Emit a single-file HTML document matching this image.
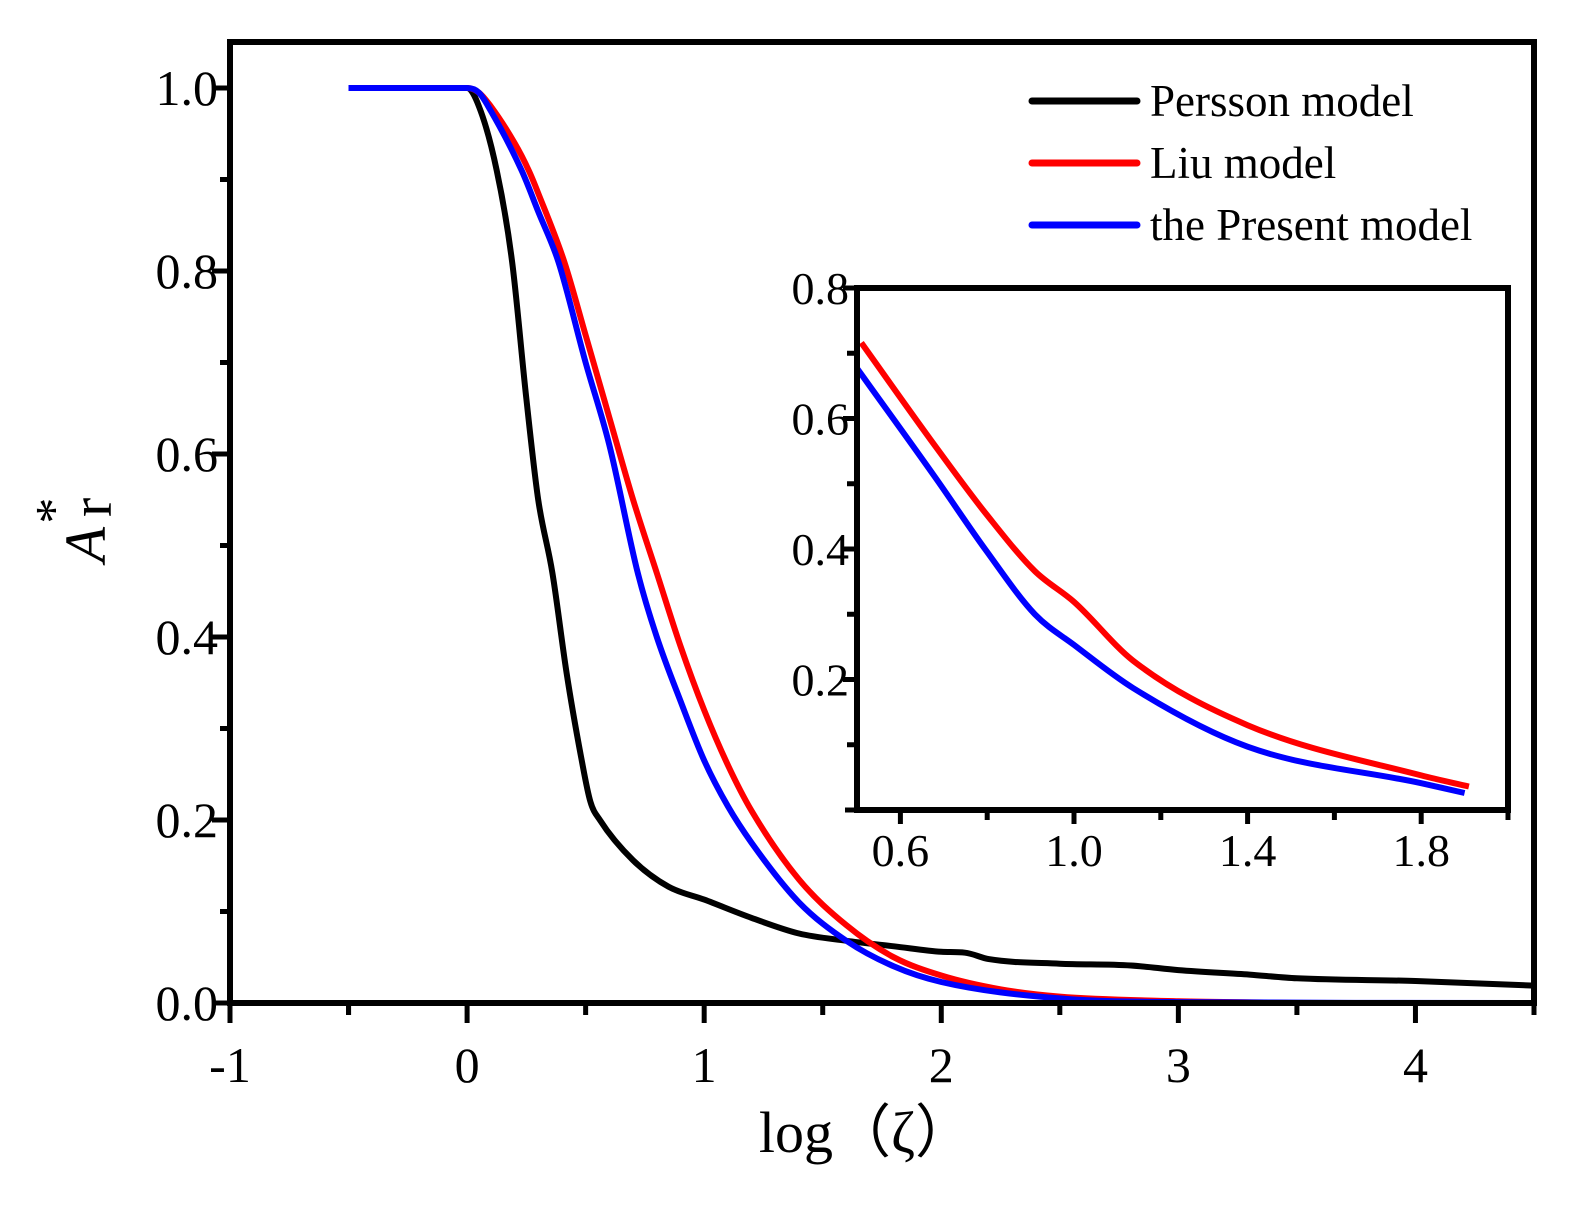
<!DOCTYPE html>
<html><head><meta charset="utf-8"><style>
html,body{margin:0;padding:0;background:#fff;overflow:hidden;width:1579px;height:1232px;}
svg{display:block;font-family:"Liberation Serif","DejaVu Serif",serif;}
</style></head><body>
<svg id="chart" width="1579" height="1232" viewBox="0 0 1579 1232" xmlns="http://www.w3.org/2000/svg">
<g id="main"></g>
<g id="inset"></g>
<g id="legend"></g>
</svg>
<script>
// Main chart data
const perssonX = [-0.5,0,0.05,0.125,0.19,0.25,0.3,0.36,0.42,0.48,0.52,0.56,0.7,0.85,1.0,1.2,1.4,1.6,1.8,2.0,2.1,2.2,2.5,2.8,3.0,3.3,3.5,4.0,4.5];
const perssonY = [1,1,0.98,0.91,0.81,0.66,0.55,0.47,0.36,0.27,0.22,0.2,0.156,0.127,0.113,0.093,0.076,0.068,0.062,0.056,0.055,0.048,0.043,0.041,0.036,0.031,0.027,0.024,0.019];
const liuX = [-0.5,0,0.05,0.1,0.2,0.26,0.3,0.41,0.5,0.6,0.7,0.8,0.9,1.0,1.1,1.2,1.4,1.6,1.8,2.0,2.25,2.5,3.0,3.5,4.0,4.5];
const liuY = [1,1,0.995,0.98,0.94,0.91,0.885,0.81,0.73,0.64,0.55,0.47,0.39,0.32,0.26,0.21,0.135,0.085,0.05,0.03,0.015,0.007,0.002,0,-0.003,0];
const presentX = [-0.5,0,0.05,0.1,0.23,0.3,0.385,0.5,0.6,0.72,0.8,0.9,1.0,1.1,1.2,1.4,1.6,1.8,2.0,2.5,3.0,4.5];
const presentY = [1,1,0.995,0.975,0.91,0.865,0.81,0.70,0.61,0.47,0.40,0.33,0.265,0.215,0.175,0.11,0.068,0.04,0.023,0.005,0.001,0];
const mainXTicks = ["-1","0","1","2","3","4"];
const mainYTicks = ["0.0","0.2","0.4","0.6","0.8","1.0"];
// Inset data
const insetLiuX = [0.51,0.68,0.795,0.91,1.0,1.136,1.4,1.8,1.91];
const insetLiuY = [0.716,0.558,0.456,0.366,0.319,0.229,0.130,0.053,0.036];
const insetPresentX = [0.5,0.68,0.795,0.91,1.0,1.136,1.4,1.8,1.90];
const insetPresentY = [0.677,0.51,0.40,0.30,0.253,0.187,0.097,0.041,0.026];
const insetXTicks = ["0.6","1.0","1.4","1.8"];
const insetYTicks = ["0.2","0.4","0.6","0.8"];

const NS="http://www.w3.org/2000/svg";
function mk(tag,attrs,parent){const e=document.createElementNS(NS,tag);for(const k in attrs)e.setAttribute(k,attrs[k]);parent.appendChild(e);return e;}
// monotone cubic (Fritsch-Carlson) in pixel space
function spline(xs,ys,sx,sy){
  const px=xs.map(sx),py=ys.map(sy),n=px.length;
  const d=[],m=[];
  for(let i=0;i<n-1;i++)d.push((py[i+1]-py[i])/(px[i+1]-px[i]));
  m[0]=d[0];m[n-1]=d[n-2];
  for(let i=1;i<n-1;i++){m[i]=(d[i-1]*d[i]<=0)?0:(d[i-1]+d[i])/2;}
  for(let i=0;i<n-1;i++){
    if(d[i]===0){m[i]=0;m[i+1]=0;continue;}
    const a=m[i]/d[i],b=m[i+1]/d[i],s=a*a+b*b;
    if(s>9){const t=3/Math.sqrt(s);m[i]=t*a*d[i];m[i+1]=t*b*d[i];}
  }
  let p="M"+px[0].toFixed(1)+","+py[0].toFixed(1);
  for(let i=0;i<n-1;i++){
    const h=(px[i+1]-px[i])/3;
    p+=" C"+(px[i]+h).toFixed(1)+","+(py[i]+m[i]*h).toFixed(1)+" "+(px[i+1]-h).toFixed(1)+","+(py[i+1]-m[i+1]*h).toFixed(1)+" "+px[i+1].toFixed(1)+","+py[i+1].toFixed(1);
  }
  return p;
}
// main axes
const L=230,R=1534,T=42,B=1003;
const mx=v=>L+(v+1)*(R-L)/5.5;
const my=v=>B-v*915;
const main=document.getElementById('main');
const clip=mk('clipPath',{id:'mc'},main);mk('rect',{x:L,y:T,width:R-L,height:B-T},clip);
const series=[[perssonX,perssonY,'#000','persson-line'],[liuX,liuY,'#ff0000','liu-line'],[presentX,presentY,'#0000ff','present-model-line']];
series.forEach(s=>{
  const e=mk('path',{d:spline(s[0],s[1],mx,my),fill:'none',stroke:s[2],'stroke-width':6,'clip-path':'url(#mc)','stroke-linejoin':'round'},main);
  
  
});
const fr=mk('rect',{x:L,y:T,width:R-L,height:B-T,fill:'none',stroke:'#000','stroke-width':6},main);


mainXTicks.forEach((t,i)=>{
  const v=parseFloat(t),x=mx(v);
  mk('line',{x1:x,y1:B,x2:x,y2:B+20,stroke:'#000','stroke-width':5},main);
  const m=mx(v+0.5); if(v+0.5<4.6) mk('line',{x1:m,y1:B,x2:m,y2:B+12,stroke:'#000','stroke-width':5},main);
  const tx=mk('text',{x:x,y:1082,'font-size':50,'text-anchor':'middle'},main);tx.textContent=t;
  
  
});
mk('line',{x1:mx(-0.5),y1:B,x2:mx(-0.5),y2:B+12,stroke:'#000','stroke-width':5},main);
mainYTicks.forEach((t,i)=>{
  const v=parseFloat(t),y=my(v);
  mk('line',{x1:L-18,y1:y,x2:L,y2:y,stroke:'#000','stroke-width':5},main);
  if(v<1) mk('line',{x1:L-10,y1:my(v+0.1),x2:L,y2:my(v+0.1),stroke:'#000','stroke-width':5},main);
  const tx=mk('text',{x:218,y:y+17,'font-size':50,'text-anchor':'end'},main);tx.textContent=t;
  
  
});
const xt=mk('text',{x:866,y:1152,'font-size':58,'text-anchor':'middle'},main);
xt.textContent="log（ζ）";


const yt=mk('text',{transform:'translate(105,530) rotate(-90)','font-size':58,'text-anchor':'middle'},main);
yt.innerHTML='<tspan font-style="italic">A</tspan><tspan dx="10" dy="6">r</tspan><tspan dx="-26" dy="-40" font-size="52">*</tspan>';


// inset
const IL=857,IR=1508,IT=288,IB=810;
const ix=v=>IL+(v-0.5)*(IR-IL)/1.5;
const iy=v=>IB-v*(IB-IT)/0.8;
const inset=document.getElementById('inset');
mk('rect',{x:IL,y:IT,width:IR-IL,height:IB-IT,fill:'#fff'},inset);
[[insetLiuX,insetLiuY,'#ff0000','inset-liu-line'],[insetPresentX,insetPresentY,'#0000ff','inset-present-model-line']].forEach(s=>{
  const e=mk('path',{d:spline(s[0],s[1],ix,iy),fill:'none',stroke:s[2],'stroke-width':6},inset);
  
  
});
const ifr=mk('rect',{x:IL,y:IT,width:IR-IL,height:IB-IT,fill:'none',stroke:'#000','stroke-width':6},inset);


insetXTicks.forEach(t=>{
  const v=parseFloat(t),x=ix(v);
  mk('line',{x1:x,y1:IB,x2:x,y2:IB+14,stroke:'#000','stroke-width':5},inset);
  mk('line',{x1:ix(v+0.2),y1:IB,x2:ix(v+0.2),y2:IB+10,stroke:'#000','stroke-width':5},inset);
  const tx=mk('text',{x:x,y:866,'font-size':46,'text-anchor':'middle'},inset);tx.textContent=t;
  
  
});
mk('line',{x1:IL-12,y1:IB,x2:IL,y2:IB,stroke:'#000','stroke-width':5},inset);
insetYTicks.forEach(t=>{
  const v=parseFloat(t),y=iy(v);
  mk('line',{x1:IL-14,y1:y,x2:IL,y2:y,stroke:'#000','stroke-width':5},inset);
  mk('line',{x1:IL-10,y1:iy(v-0.1),x2:IL,y2:iy(v-0.1),stroke:'#000','stroke-width':5},inset);
  const tx=mk('text',{x:IL-8,y:y+16,'font-size':46,'text-anchor':'end'},inset);tx.textContent=t;
  
  
});
// legend
const legendNames=["Persson model","Liu model","the Present model"];
const legendColors=['#000','#ff0000','#0000ff'];
const leg=document.getElementById('legend');
legendNames.forEach((n,i)=>{
  const y=101+i*62;
  const g=mk('g',{},leg);
  
  
  mk('line',{x1:1032,y1:y,x2:1137,y2:y,stroke:legendColors[i],'stroke-width':7,'stroke-linecap':'round'},g);
  const tx=mk('text',{x:1150,y:y+15,'font-size':45},g);tx.textContent=n;
});
</script>
</body></html>
